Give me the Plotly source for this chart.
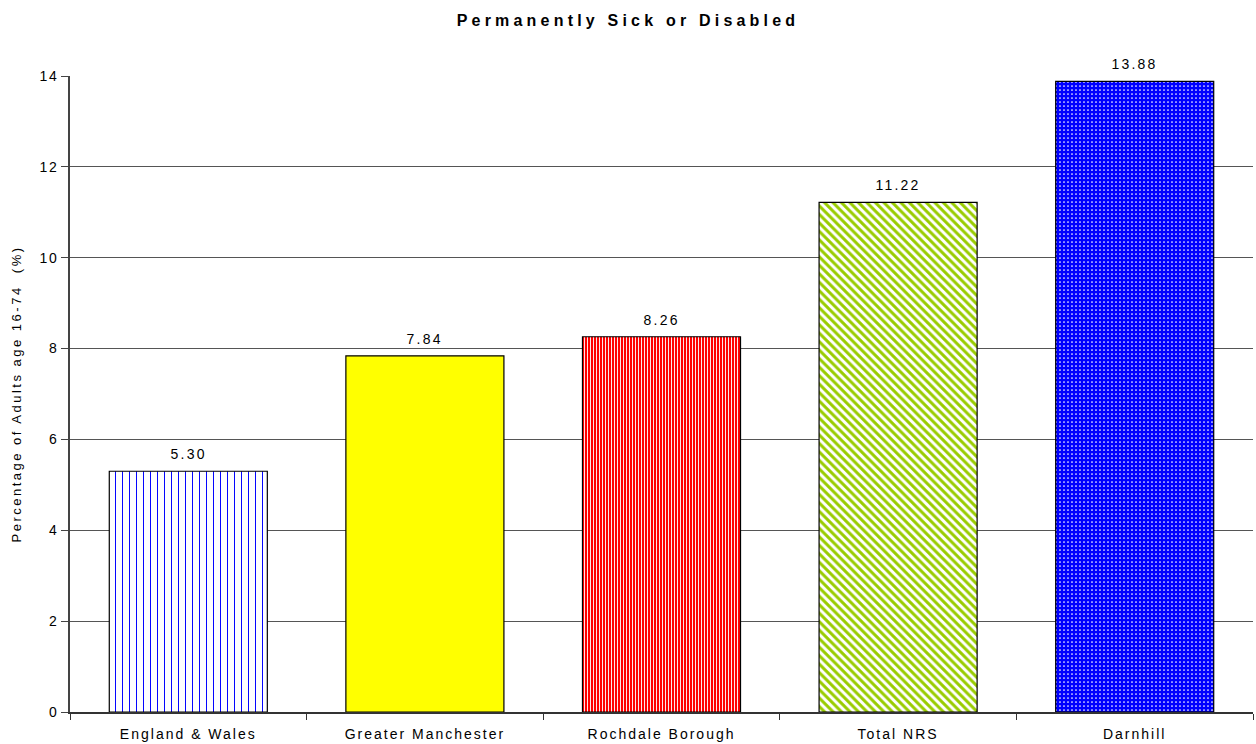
import plotly.graph_objects as go

categories = ["England & Wales", "Greater Manchester", "Rochdale Borough", "Total NRS", "Darnhill"]
values = [5.30, 7.84, 8.26, 11.22, 13.88]
labels = ["5.30", "7.84", "8.26", "11.22", "13.88"]

bar_color = ["#FFFFFF", "#FFFF00", "#FF0000", "#FFFFFF", "#0000FF"]
pat_color = ["#0000FF", "#FFFF00", "#FFFFFF", "#99CC00", "#FFFFFF"]
pat_shape = ["|", "", "|", "\\", "."]
pat_size = [7, 8, 3, 6, 4]
pat_solid = [0.14, 0.3, 0.3, 0.5, 0.15]

FONT = "Liberation Sans, Arial, sans-serif"

fig = go.Figure()
for i, cat in enumerate(categories):
    fig.add_trace(go.Bar(
        x=[cat], y=[values[i]], name=cat,
        marker=dict(
            color=bar_color[i],
            line=dict(color="#000", width=1.2),
            pattern=dict(shape=pat_shape[i], fgcolor=pat_color[i], bgcolor=bar_color[i],
                         size=pat_size[i], solidity=pat_solid[i], fillmode="overlay",
                         fgopacity=1),
        ),
    ))
    fig.add_annotation(x=cat, y=values[i], text=labels[i], showarrow=False,
                       yanchor="bottom", yshift=7,
                       font=dict(family=FONT, size=14, color="#000"))

fig.update_layout(
    width=1256, height=744,
    margin=dict(l=70, r=3, t=76, b=32),
    paper_bgcolor="white", plot_bgcolor="white",
    barmode="overlay",
    bargap=0.332,
    showlegend=False,
    title=dict(text="<b>Permanently Sick or Disabled</b>",
               x=0.5, xanchor="center", xref="container", y=1 - 20 / 744, yanchor="middle",
               font=dict(family=FONT, size=16, color="#000")),
    font=dict(family=FONT, size=14, color="#000"),
)
fig.update_xaxes(
    automargin=False,
    showline=True, linecolor="#333", linewidth=1.5,
    ticks="outside", tickson="boundaries", ticklen=6, tickcolor="#333",
    tickfont=dict(size=14), ticklabelstandoff=8,
    showgrid=False,
)
fig.update_yaxes(
    automargin=False,
    range=[0, 14], dtick=2, showline=True, linecolor="#444", linewidth=2,
    ticks="outside", ticklen=7, tickcolor="#444",
    showgrid=True, gridcolor="#555", gridwidth=1,
    tickfont=dict(size=14),
    title=dict(text="Percentage of Adults age 16-74  (%)", font=dict(size=13), standoff=18),
    zeroline=False,
)

post = """
document.body.style.margin='0';
document.body.style.overflow='hidden';
var gd = document.getElementById('{plot_id}');
function sp(){
  gd.querySelectorAll('.gtitle').forEach(function(e){e.style.letterSpacing='4.2px';});
  gd.querySelectorAll('.xtick text').forEach(function(e){e.style.letterSpacing='2px';});
  gd.querySelectorAll('.ytick text').forEach(function(e){e.style.letterSpacing='1.5px';});
  gd.querySelectorAll('.ytitle').forEach(function(e){e.style.letterSpacing='2.5px';});
  gd.querySelectorAll('.annotation-text').forEach(function(e){e.style.letterSpacing='2.2px';});
}
sp();
gd.on('plotly_afterplot', sp);
setTimeout(sp, 50);
"""
fig.write_html("out.html", post_script=post, config={"displayModeBar": False})
